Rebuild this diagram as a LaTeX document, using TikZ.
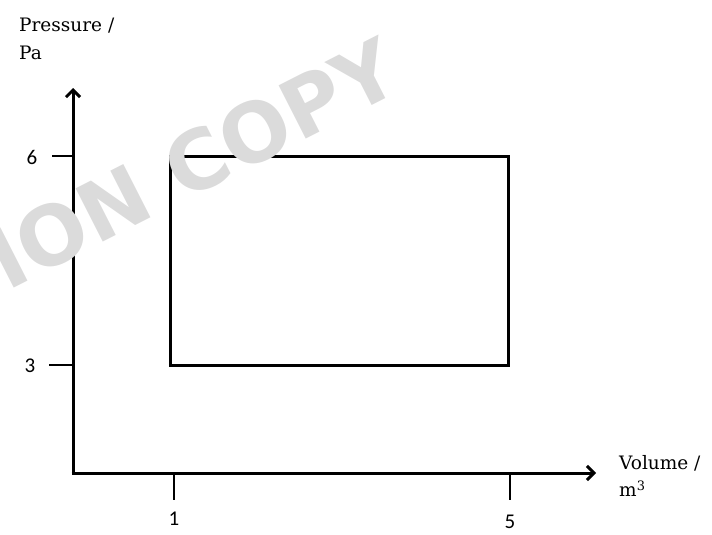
\documentclass[tikz,border=0pt]{standalone}
\usepackage{fontspec}
\setmainfont{DejaVu Serif}
\newfontfamily\numfont{Carlito}
\newfontfamily\wmfont{DejaVu Sans}
\usetikzlibrary{arrows.meta}
\begin{document}
\begin{tikzpicture}[x=1pt,y=-1pt,
  axis/.style={line width=3pt,-{Straight Barb[length=7pt,width=14pt,line width=3pt]}},
  box/.style={line width=3pt,line join=miter},
  tick/.style={line width=2.2pt},
  lab/.style={font=\fontsize{18.5}{21}\selectfont,inner sep=0pt,anchor=west,align=left},
  num/.style={font=\numfont\fontsize{21}{24}\selectfont,inner sep=0pt}]
\useasboundingbox (0,0) rectangle (712,535);
% axes
\coordinate (O) at (73,473);
\coordinate (ytop) at (73,88);
\coordinate (xend) at (596,473);
\draw[axis] ([yshift=1.5pt]O) -- (ytop);
\draw[axis] ([xshift=-1.5pt]O) -- (xend);
% ticks
\coordinate (t6a) at (52,156); \coordinate (t6b) at (73,156);
\coordinate (t3a) at (49,365); \coordinate (t3b) at (73,365);
\coordinate (t1a) at (174,473); \coordinate (t1b) at (174,500);
\coordinate (t5a) at (510,473); \coordinate (t5b) at (510,500);
\draw[tick] (t6a) -- (t6b);
\draw[tick] (t3a) -- (t3b);
\draw[tick] (t1a) -- (t1b);
\draw[tick] (t5a) -- (t5b);
% cycle rectangle
\coordinate (A) at (170,156);
\coordinate (B) at (508,156);
\coordinate (C) at (508,365);
\coordinate (D) at (170,365);
\draw[box] (A) -- (B) -- (C) -- (D) -- cycle;
% numbers
\node[num] (n6) at (32,157) {6};
\node[num] (n3) at (30,366) {3};
\node[num] (n1) at (174,519) {1};
\node[num] (n5) at (510,522) {5};
% labels
\node[lab] (py) at (19,26) {Pressure /};
\node[lab] (pa) at (19,53) {Pa};
\node[lab] (vx) at (619,463) {Volume /};
\node[lab] (vm) at (619,489) {m\textsuperscript{3}};
% watermark
\node[font=\wmfont\bfseries\fontsize{82}{82}\selectfont,text=gray!28,rotate=27,inner sep=0pt] (wm) at (193,163) {ION COPY};
\end{tikzpicture}
\end{document}
